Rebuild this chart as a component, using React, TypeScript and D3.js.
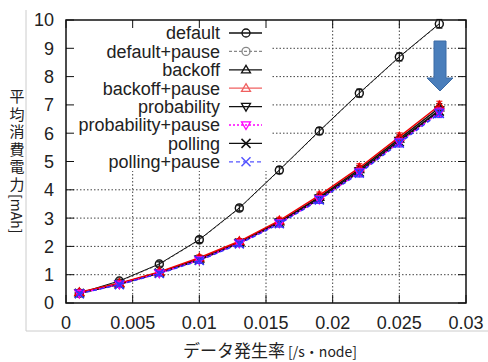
import React from "react";
import * as d3 from "d3";

const xValues = [0.001, 0.004, 0.007, 0.01, 0.013, 0.016, 0.019, 0.022, 0.025, 0.028];
const seriesNames = [
  "default",
  "default+pause",
  "backoff",
  "backoff+pause",
  "probability",
  "probability+pause",
  "polling",
  "polling+pause",
];
const defaultVals = [0.35, 0.78, 1.38, 2.24, 3.36, 4.7, 6.08, 7.42, 8.7, 9.87];
const defaultPauseVals = [0.34, 0.76, 1.36, 2.22, 3.34, 4.68, 6.06, 7.4, 8.68, 9.85];
const backoffVals = [0.36, 0.68, 1.08, 1.56, 2.15, 2.87, 3.74, 4.72, 5.8, 6.9];
const backoffPauseVals = [0.38, 0.7, 1.1, 1.6, 2.18, 2.91, 3.8, 4.78, 5.87, 6.98];
const probabilityVals = [0.35, 0.67, 1.07, 1.54, 2.13, 2.85, 3.7, 4.66, 5.74, 6.82];
const probabilityPauseVals = [0.34, 0.66, 1.05, 1.52, 2.11, 2.82, 3.66, 4.62, 5.68, 6.74];
const pollingVals = [0.34, 0.66, 1.06, 1.52, 2.12, 2.83, 3.67, 4.63, 5.7, 6.78];
const pollingPauseVals = [0.33, 0.65, 1.04, 1.5, 2.09, 2.8, 3.64, 4.59, 5.65, 6.7];
const errVals = [0.05, 0.06, 0.08, 0.1, 0.1, 0.12, 0.12, 0.14, 0.14, 0.15];
const xTicks = [0, 0.005, 0.01, 0.015, 0.02, 0.025, 0.03];
const xTickLabels = ["0", "0.005", "0.01", "0.015", "0.02", "0.025", "0.03"];
const yTicks = [0, 1, 2, 3, 4, 5, 6, 7, 8, 9, 10];
const yTitleMain = "平均消費電力";
const yTitleUnit = "[mAh]";

type Style = { color: string; dash: string; marker: string; width: number; legendColor: string };
const styles: Style[] = [
  { color: "#111", dash: "", marker: "circle", width: 1, legendColor: "#111" },
  { color: "#888", dash: "3,2", marker: "circle", width: 1, legendColor: "#888" },
  { color: "#111", dash: "", marker: "up", width: 1.5, legendColor: "#111" },
  { color: "#e00", dash: "", marker: "up", width: 1.5, legendColor: "#f06060" },
  { color: "#111", dash: "", marker: "down", width: 1.5, legendColor: "#111" },
  { color: "#f0f", dash: "2,2", marker: "down", width: 1.5, legendColor: "#f0f" },
  { color: "#111", dash: "", marker: "x", width: 1.5, legendColor: "#111" },
  { color: "#33f", dash: "4,3", marker: "x", width: 1.5, legendColor: "#55f" },
];
const allVals = [
  defaultVals,
  defaultPauseVals,
  backoffVals,
  backoffPauseVals,
  probabilityVals,
  probabilityPauseVals,
  pollingVals,
  pollingPauseVals,
];
const drawOrder = [1, 0, 2, 4, 6, 3, 5, 7];

const W = 488;
const H = 362;
const L = 66, R = 466, T = 20, B = 303;
const x = d3.scaleLinear().domain([0, 0.03]).range([L, R]);
const y = d3.scaleLinear().domain([0, 10]).range([B, T]);

function Marker({ kind, cx, cy, color }: { kind: string; cx: number; cy: number; color: string }) {
  const s = 4.5;
  if (kind === "circle") return <circle cx={cx} cy={cy} r={4} fill="none" stroke={color} strokeWidth={1.3} />;
  if (kind === "up")
    return (
      <path
        d={`M${cx},${cy - s}L${cx + s},${cy + s * 0.7}L${cx - s},${cy + s * 0.7}Z`}
        fill="none"
        stroke={color}
        strokeWidth={1.3}
      />
    );
  if (kind === "down")
    return (
      <path
        d={`M${cx},${cy + s}L${cx + s},${cy - s * 0.7}L${cx - s},${cy - s * 0.7}Z`}
        fill="none"
        stroke={color}
        strokeWidth={1.3}
      />
    );
  return (
    <path
      d={`M${cx - s},${cy - s}L${cx + s},${cy + s}M${cx - s},${cy + s}L${cx + s},${cy - s}`}
      stroke={color}
      strokeWidth={1.5}
    />
  );
}

export default function App() {
  const line = d3
    .line<number>()
    .x((_, i) => x(xValues[i]))
    .y((v) => y(v));
  const numFont = "'Liberation Sans', Arial, sans-serif";
  const jpFont = "'Noto Sans CJK JP', sans-serif";
  const legendRowY = (i: number) => 33 + i * 18.4;
  return (
    <svg
      width={W}
      height={H}
      style={{ position: "absolute", left: 0, top: 0, background: "#fff" }}
      fontFamily={numFont}
    >
      <rect x={0} y={0} width={W} height={H} fill="#fff" />
      {/* light frame */}
      <line x1={26} x2={26} y1={10} y2={331} stroke="#ccc" strokeWidth={1} />
      <line x1={26} x2={488} y1={331} y2={331} stroke="#ccc" strokeWidth={1} />
      {/* grid */}
      {yTicks.slice(1, -1).map((t) => (
        <line key={"gy" + t} x1={L} x2={R} y1={y(t)} y2={y(t)} stroke="#444" strokeWidth={1} strokeDasharray="1.5,2" />
      ))}
      {xTicks.slice(1, -1).map((t) => (
        <line key={"gx" + t} x1={x(t)} x2={x(t)} y1={T} y2={B} stroke="#444" strokeWidth={1} strokeDasharray="1.5,2" />
      ))}
      {/* legend background */}
      <rect x={L + 1} y={T + 1} width={204} height={150} fill="#fff" />
      {/* ticks */}
      {yTicks.map((t) => (
        <g key={"ty" + t}>
          <line x1={L} x2={L + 8} y1={y(t)} y2={y(t)} stroke="#111" />
          <line x1={R} x2={R - 8} y1={y(t)} y2={y(t)} stroke="#111" />
          <text x={54} y={y(t)} dy="0.36em" textAnchor="end" fontSize={18} fill="#222">
            {t}
          </text>
        </g>
      ))}
      {xTicks.map((t, i) => (
        <g key={"tx" + t}>
          <line x1={x(t)} x2={x(t)} y1={B} y2={B - 8} stroke="#111" />
          <line x1={x(t)} x2={x(t)} y1={T} y2={T + 8} stroke="#111" />
          <text x={x(t)} y={323} dy="0.36em" textAnchor="middle" fontSize={18} fill="#222">
            {xTickLabels[i]}
          </text>
        </g>
      ))}
      <rect x={L} y={T} width={R - L} height={B - T} fill="none" stroke="#111" strokeWidth={1.5} />
      {/* series */}
      {drawOrder.map((si) => {
        const vals = allVals[si];
        const st = styles[si];
        return (
          <g key={"s" + si}>
            <path
              d={line(vals) || ""}
              fill="none"
              stroke={st.color}
              strokeWidth={st.width}
              strokeDasharray={st.dash}
            />
            {vals.map((v, i) => {
              const cx = x(xValues[i]);
              const e = errVals[i];
              return (
                <g key={i}>
                  <line x1={cx} x2={cx} y1={y(v - e)} y2={y(v + e)} stroke={st.color} strokeWidth={1} />
                  <line x1={cx - 3} x2={cx + 3} y1={y(v - e)} y2={y(v - e)} stroke={st.color} strokeWidth={1} />
                  <line x1={cx - 3} x2={cx + 3} y1={y(v + e)} y2={y(v + e)} stroke={st.color} strokeWidth={1} />
                  <Marker kind={st.marker} cx={cx} cy={y(v)} color={st.color} />
                </g>
              );
            })}
          </g>
        );
      })}
      {/* legend */}
      {seriesNames.map((n, i) => {
        const st = styles[i];
        const ly = legendRowY(i);
        return (
          <g key={"lg" + i}>
            <text x={220} y={ly} dy="0.36em" textAnchor="end" fontSize={18} fill="#222">
              {n}
            </text>
            <line x1={229} x2={262} y1={ly} y2={ly} stroke={st.legendColor} strokeWidth={1.3} strokeDasharray={st.dash} />
            <Marker kind={st.marker} cx={246} cy={ly} color={st.legendColor} />
          </g>
        );
      })}
      {/* arrow */}
      <path
        d="M434,41L446,41L446,78L453,78L440,91L427,78L434,78Z"
        fill="#4a7ebb"
        stroke="#3a6aa5"
        strokeWidth={1}
      />
      {/* y title */}
      <text
        x={17}
        y={89}
        fontFamily={jpFont}
        fill="#222"
        style={{ writingMode: "vertical-rl" } as React.CSSProperties}
      >
        <tspan fontSize={15} letterSpacing={2.5}>{yTitleMain}</tspan>
        <tspan fontSize={14}>{yTitleUnit}</tspan>
      </text>
      {/* x title */}
      <text x={270} y={351} dy="0.36em" textAnchor="middle" fontFamily={jpFont} fill="#222">
        <tspan fontSize={17}>データ発生率</tspan>
        <tspan fontSize={14}> [/s・node]</tspan>
      </text>
    </svg>
  );
}
